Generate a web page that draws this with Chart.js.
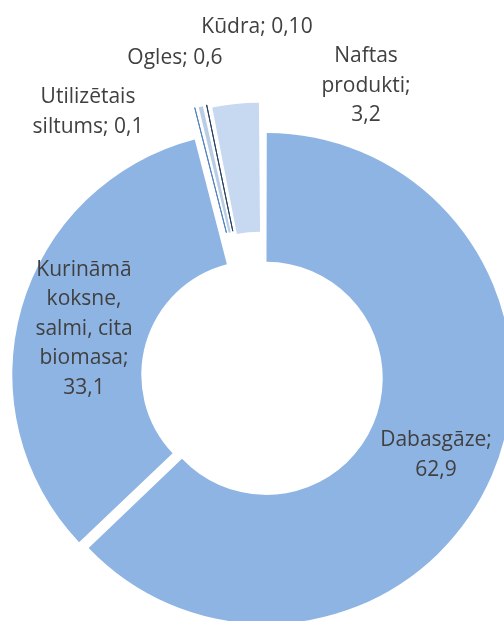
<!DOCTYPE html>
<html>
<head>
<meta charset="utf-8">
<script src="https://cdn.jsdelivr.net/npm/chart.js@4.4.1/dist/chart.umd.min.js"></script>
<style>
  html, body { margin: 0; padding: 0; background: #fff; }
  #wrap { width: 504px; height: 621px; }
</style>
</head>
<body>
<div id="wrap"><canvas id="fuel-chart" width="504" height="621"></canvas></div>
<script>
// data (clockwise from 12 o'clock)
const categories = [
  "Dabasgāze",
  "Kurināmā koksne, salmi, cita biomasa",
  "Utilizētais siltums",
  "Ogles",
  "Kūdra",
  "Naftas produkti"
];
const shares = [62.9, 33.1, 0.1, 0.6, 0.1, 3.2];
const shareLabels = ["62,9", "33,1", "0,1", "0,6", "0,10", "3,2"];

// how the label text is broken into lines
const labelLines = [
  ["Dabasgāze;", "62,9"],
  ["Kurināmā", "koksne,", "salmi, cita", "biomasa;", "33,1"],
  ["Utilizētais", "siltums; 0,1"],
  ["Ogles; 0,6"],
  ["Kūdra; 0,10"],
  ["Naftas", "produkti;", "3,2"]
];

// styles
const sliceColors = ["#8EB4E3", "#8EB4E3", "#4F81BD", "#B9CDE5", "#254061", "#C6D9F1"];
const sliceBorders = [0, 0, 1, 0, 1, 0];
const sliceOffsets = [14, 32, 72, 72, 72, 72];
// label centres, relative to the pie centre
const labelPos = [
  [173, 78], [-179, -48], [-175, -265], [-88, -319], [-6, -350], [103, -291]
];

const labelPlugin = {
  id: "sliceLabels",
  afterDatasetsDraw(chart) {
    const ctx = chart.ctx;
    const arc = chart.getDatasetMeta(0).data[0];
    const cx = arc.x, cy = arc.y;
    const lineH = 29.5;
    ctx.save();
    ctx.font = "21px 'Open Sans'";
    ctx.fillStyle = "#404040";
    ctx.textAlign = "center";
    ctx.textBaseline = "middle";
    labelLines.forEach((lines, i) => {
      const x = cx + labelPos[i][0];
      const y0 = cy + labelPos[i][1] - (lines.length - 1) * lineH / 2;
      lines.forEach((t, j) => ctx.fillText(t, x, y0 + j * lineH));
    });
    ctx.restore();
  }
};

const data = {
  labels: categories,
  datasets: [
    {
      data: shares,
      backgroundColor: sliceColors,
      borderColor: sliceColors,
      borderWidth: sliceBorders,
      offset: sliceOffsets
    }
  ]
};

const config = {
  type: "doughnut",
  data,
  options: {
    responsive: false,
    animation: false,
    radius: 242,
    cutout: "46.7%",
    layout: { padding: { left: 22, right: 0, top: 133, bottom: 0 } },
    plugins: {
      legend: { display: false },
      tooltip: { enabled: false }
    }
  },
  plugins: [labelPlugin]
};

const myChart = new Chart(document.getElementById("fuel-chart"), config);
</script>
</body>
</html>
